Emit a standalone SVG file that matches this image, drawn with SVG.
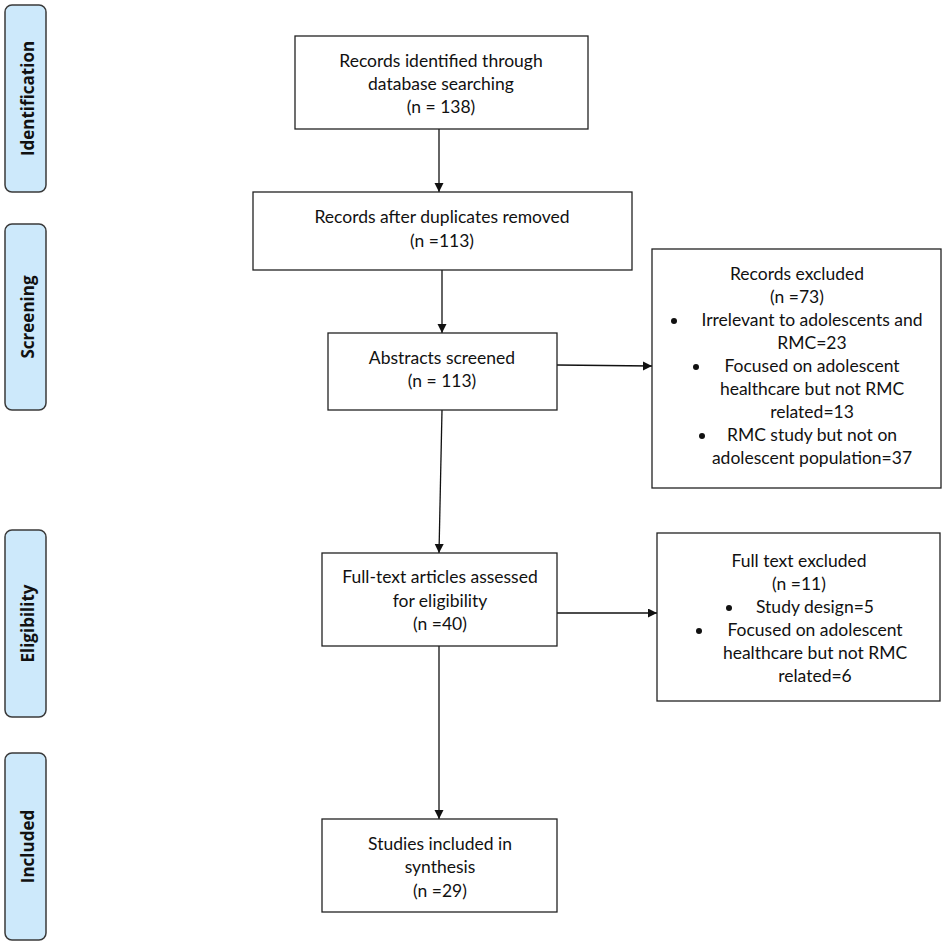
<svg xmlns="http://www.w3.org/2000/svg" width="945" height="946" viewBox="0 0 945 946">
<style>
.box{fill:#fff;stroke:#222;stroke-width:1.3}
.side{fill:#cde9fb;stroke:#3a3a3a;stroke-width:1.5}
.t{font-family:Lato,"Liberation Sans",sans-serif;font-size:17.5px;fill:#111;text-anchor:middle}
.s{font-family:"Open Sans","Liberation Sans",sans-serif;font-size:17px;font-weight:bold;fill:#111;text-anchor:middle}
.c{stroke:#111;stroke-width:1.3;fill:none}
.b{fill:#111}
</style>
<defs>
<marker id="ah" markerWidth="10" markerHeight="10" refX="9" refY="4.5" orient="auto" markerUnits="userSpaceOnUse">
<path d="M0,0 L9,4.5 L0,9 Z" fill="#111"/>
</marker>
</defs>
<rect width="945" height="946" fill="#fff"/>
<g id="phase-identification"><rect class="side" x="5" y="5" width="41" height="187" rx="7"/><text class="s" transform="translate(34,98.5) rotate(-90)">Identification</text></g>
<g id="phase-screening"><rect class="side" x="5" y="224" width="41" height="186" rx="7"/><text class="s" transform="translate(34,317) rotate(-90)">Screening</text></g>
<g id="phase-eligibility"><rect class="side" x="5" y="530" width="41" height="187" rx="7"/><text class="s" transform="translate(34,623.5) rotate(-90)">Eligibility</text></g>
<g id="phase-included"><rect class="side" x="5" y="753" width="41" height="187" rx="7"/><text class="s" transform="translate(34,846.5) rotate(-90)">Included</text></g>

<g id="connectors">
<line class="c" x1="439" y1="129" x2="439" y2="192" marker-end="url(#ah)"/>
<line class="c" x1="442" y1="270" x2="442" y2="333" marker-end="url(#ah)"/>
<line class="c" x1="442" y1="410" x2="439" y2="553" marker-end="url(#ah)"/>
<line class="c" x1="439" y1="646" x2="439" y2="819" marker-end="url(#ah)"/>
<line class="c" x1="557" y1="365" x2="652" y2="366" marker-end="url(#ah)"/>
<line class="c" x1="557" y1="613" x2="657" y2="613" marker-end="url(#ah)"/>
</g>

<g id="n-identified"><rect class="box" x="295" y="36" width="293" height="93"/>
<text class="t" x="441" y="67">Records identified through</text>
<text class="t" x="441" y="90">database searching</text>
<text class="t" x="441" y="113">(n = 138)</text></g>

<g id="n-duplicates"><rect class="box" x="253" y="192" width="379" height="78"/>
<text class="t" x="442" y="223">Records after duplicates removed</text>
<text class="t" x="442" y="247">(n =113)</text></g>

<g id="n-abstracts"><rect class="box" x="328" y="333" width="229" height="77"/>
<text class="t" x="442" y="364">Abstracts screened</text>
<text class="t" x="442" y="387">(n = 113)</text></g>

<g id="n-records-excluded"><rect class="box" x="652" y="249" width="289" height="239"/>
<text class="t" x="797" y="280">Records excluded</text>
<text class="t" x="797" y="303">(n =73)</text>
<circle class="b" cx="674" cy="321" r="3"/>
<text class="t" x="812" y="326">Irrelevant to adolescents and</text>
<text class="t" x="812" y="349">RMC=23</text>
<circle class="b" cx="696" cy="367" r="3"/>
<text class="t" x="812" y="372">Focused on adolescent</text>
<text class="t" x="812" y="395">healthcare but not RMC</text>
<text class="t" x="812" y="418">related=13</text>
<circle class="b" cx="702" cy="436" r="3"/>
<text class="t" x="812" y="441">RMC study but not on</text>
<text class="t" x="812" y="464">adolescent population=37</text></g>

<g id="n-fulltext"><rect class="box" x="322" y="553" width="235" height="93"/>
<text class="t" x="440" y="583">Full-text articles assessed</text>
<text class="t" x="440" y="607">for eligibility</text>
<text class="t" x="440" y="630">(n =40)</text></g>

<g id="n-fulltext-excluded"><rect class="box" x="657" y="533" width="283" height="168"/>
<text class="t" x="799" y="567">Full text excluded</text>
<text class="t" x="799" y="590">(n =11)</text>
<circle class="b" cx="729" cy="608" r="3"/>
<text class="t" x="815" y="613">Study design=5</text>
<circle class="b" cx="699" cy="631" r="3"/>
<text class="t" x="815" y="636">Focused on adolescent</text>
<text class="t" x="815" y="659">healthcare but not RMC</text>
<text class="t" x="815" y="682">related=6</text></g>

<g id="n-included"><rect class="box" x="322" y="819" width="235" height="93"/>
<text class="t" x="440" y="850">Studies included in</text>
<text class="t" x="440" y="873">synthesis</text>
<text class="t" x="440" y="897">(n =29)</text></g>
</svg>
